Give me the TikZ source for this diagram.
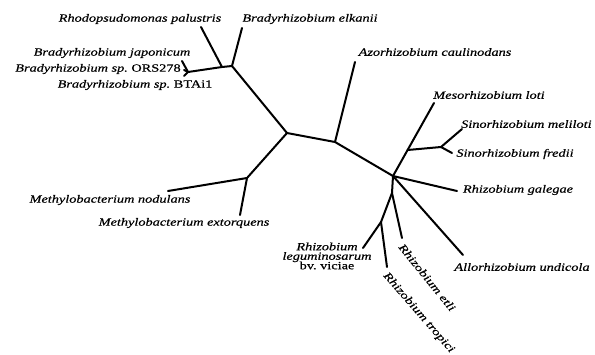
\documentclass[tikz,border=0pt]{standalone}
\usepackage{fontspec}
\newfontfamily\lblfont[FakeStretch=1.3,FakeBold=0.5]{Liberation Serif}
\begin{document}
\begin{tikzpicture}[x=1pt,y=-1pt,
  br/.style={line width=2pt,line cap=round,line join=round},
  lbl/.style={font=\lblfont\fontsize{11}{11}\selectfont\itshape,inner sep=0pt}]
\useasboundingbox (0,0) rectangle (595,354);
\fill[white] (0,0) rectangle (595,354);
% internal nodes of the tree
\coordinate (J) at (188,72);
\coordinate (R) at (222,67);
\coordinate (E) at (232,66);
\coordinate (C) at (287,133);
\coordinate (N) at (247,178);
\coordinate (A) at (335,142);
\coordinate (M) at (393,176);
\coordinate (Q) at (407.6,150);
\coordinate (S) at (441,147);
\coordinate (K) at (392,193);
\coordinate (L) at (381,222);
% leaf tips
\coordinate (tjap) at (182,61);
\coordinate (tors) at (184,70);
\coordinate (tbta) at (184,76);
\coordinate (trho) at (201,27);
\coordinate (telk) at (242,28);
\coordinate (tnod) at (168,191);
\coordinate (text) at (240,215);
\coordinate (tazo) at (355,62);
\coordinate (tmes) at (434,103);
\coordinate (tmel) at (462,129);
\coordinate (tfre) at (452,153);
\coordinate (tgal) at (457,191);
\coordinate (tall) at (463,255);
\coordinate (tetl) at (402,238);
\coordinate (tleg) at (363,248);
\coordinate (ttro) at (387,267);
% branches
\draw[br] (tjap) -- (J) -- (tbta);
\draw[br] (tors) -- (J);
\draw[br] (J) -- (R) -- (E);
\draw[br] (R) -- (trho);
\draw[br] (E) -- (telk);
\draw[br] (E) -- (C);
\draw[br] (C) -- (N);
\draw[br] (N) -- (tnod);
\draw[br] (N) -- (text);
\draw[br] (C) -- (A) -- (M);
\draw[br] (A) -- (tazo);
\draw[br] (M) -- (tmes);
\draw[br] (Q) -- (S);
\draw[br] (S) -- (tmel);
\draw[br] (S) -- (tfre);
\draw[br] (M) -- (tgal);
\draw[br] (M) -- (tall);
\draw[br] (M) -- (K) -- (L);
\draw[br] (K) -- (tetl);
\draw[br] (L) -- (tleg);
\draw[br] (L) -- (ttro);
% labels
\node[lbl] (nrho) at (140,19) {Rhodopsudomonas palustris};
\node[lbl] (nelk) at (310,19) {Bradyrhizobium elkanii};
\node[lbl] (njap) at (112,53) {Bradyrhizobium japonicum};
\node[lbl] (nors) at (98,69) {Bradyrhizobium sp.\ {\upshape ORS278}};
\node[lbl] (nbta) at (135,85) {Bradyrhizobium sp.\ {\upshape BTAi1}};
\node[lbl] (nazo) at (435,52) {Azorhizobium caulinodans};
\node[lbl] (nmes) at (489,95) {Mesorhizobium loti};
\node[lbl,anchor=west] (nmel) at (461,124) {Sinorhizobium meliloti};
\node[lbl] (nfre) at (515,154) {Sinorhizobium fredii};
\node[lbl] (ngal) at (518,190) {Rhizobium galegae};
\node[lbl] (nall) at (522,267) {Allorhizobium undicola};
\node[lbl] (nnod) at (110,200) {Methylobacterium nodulans};
\node[lbl] (next) at (184,223) {Methylobacterium extorquens};
\node[lbl,align=center] (nleg) at (327,256)
  {Rhizobium\\[-1.5pt]leguminosarum\\[-1.5pt]{\upshape bv.\ viciae}};
\node[lbl,anchor=west,rotate=-51] (netl) at (401,245) {Rhizobium etli};
\node[lbl,anchor=west,rotate=-49] (ntro) at (385,274) {Rhizobium tropici};
\end{tikzpicture}
\end{document}
